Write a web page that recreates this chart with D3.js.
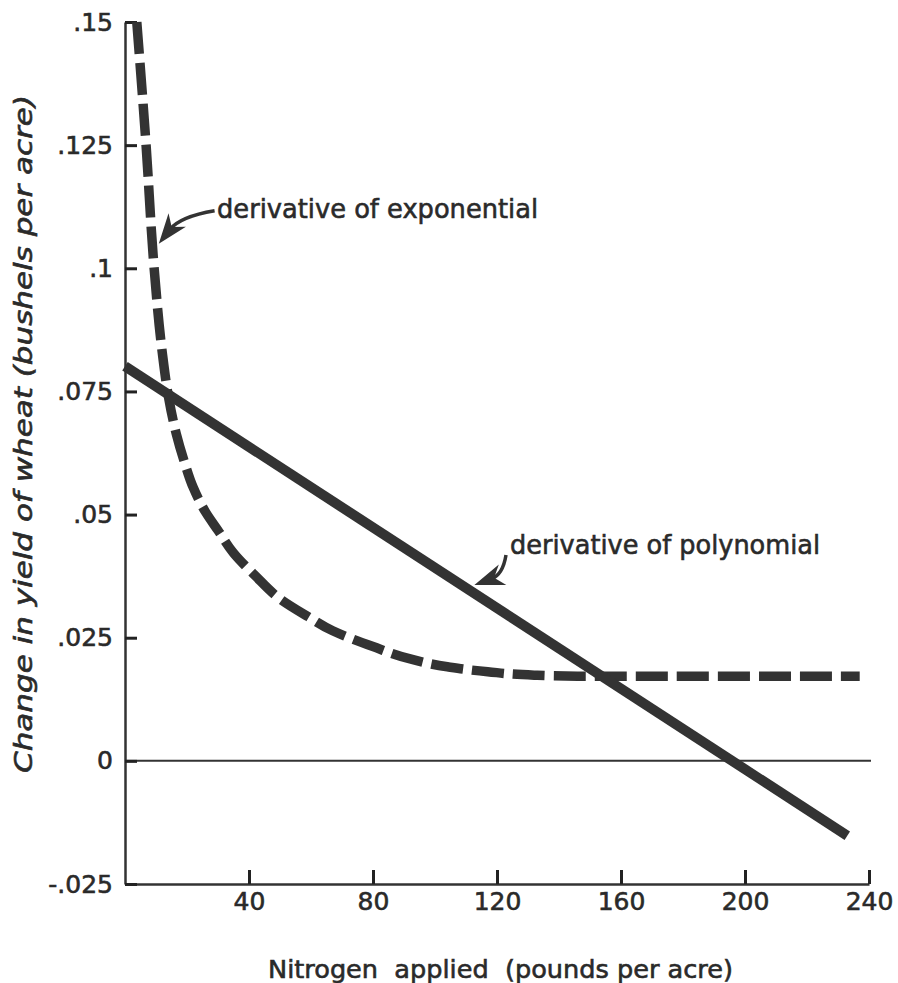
<!DOCTYPE html>
<html>
<head>
<meta charset="utf-8">
<script src="https://cdn.jsdelivr.net/npm/d3@7"></script>
<style>
  html, body { margin: 0; padding: 0; background: #fff; }
  svg { display: block; }
  text { font-family: "DejaVu Sans", sans-serif; fill: #2a2a2a; stroke: #2a2a2a; stroke-width: 0.6px; }
  .axis text { font-size: 25px; fill: #2a2a2a; }
</style>
</head>
<body>
<div id="chart"></div>
<script>
// tick values and labels as printed
const xTicks = [40, 80, 120, 160, 200, 240];
const xTickLabels = ["40", "80", "120", "160", "200", "240"];
const yTicks = [-0.025, 0, 0.025, 0.05, 0.075, 0.1, 0.125, 0.15];
const yTickLabels = ["-.025", "0", ".025", ".05", ".075", ".1", ".125", ".15"];

// derivative of polynomial (straight line)
const polyN = [0, 233];
const polyDeriv = [0.0801, -0.0152];

// derivative of exponential
const expN = [3.8, 6.8, 9.4, 12, 14, 16.5, 19, 22, 26, 30, 35, 42, 50, 59, 67, 80, 92, 104, 117, 132, 146, 237];
const expDeriv = [0.150, 0.125, 0.100, 0.083, 0.074, 0.0665, 0.061, 0.0555, 0.0505, 0.0468, 0.0422, 0.0376,
                  0.0329, 0.0293, 0.0264, 0.0232, 0.0207, 0.0191, 0.0181, 0.0174, 0.0172, 0.0172];

// labels with arrows, positions in data units
const annotations = [
    { text: "derivative of exponential", at: [29.7, 0.1102], len: 321,
      from: [28.9, 0.1117], via: [17.7, 0.1105], to: [10.9, 0.1050] },
    { text: "derivative of polynomial", at: [124.2, 0.0419], len: 310,
      from: [122.9, 0.0418], via: [121.9, 0.0378], to: [112.7, 0.0357] }
];

const width = 898, height = 983;
const ink = '#333';

const x = d3.scaleLinear().domain([0, 240]).range([125, 869]);
const y = d3.scaleLinear().domain([-0.025, 0.15]).range([884, 22]);

const svg = d3.select('#chart')
    .append('svg')
    .attr('width', width)
    .attr('height', height);

const headLen = 18;
svg.append('defs').append('marker')
    .attr('id', 'head')
    .attr('viewBox', '-32 -14 34 28')
    .attr('refX', -headLen)
    .attr('refY', 0)
    .attr('markerWidth', 34)
    .attr('markerHeight', 28)
    .attr('markerUnits', 'userSpaceOnUse')
    .attr('orient', 'auto')
    .append('path')
    .attr('d', 'M0,0 L-30,-11 L-21,0 L-30,11 Z')
    .attr('fill', ink);

// zero line
svg.append('line')
    .attr('x1', x(0)).attr('x2', x(240) + 2)
    .attr('y1', y(0)).attr('y2', y(0))
    .attr('stroke', ink)
    .attr('stroke-width', 2);

function styleAxis(g) {
    g.select('.domain').attr('stroke', ink).attr('stroke-width', 2.5);
    g.selectAll('.tick line').attr('stroke', '#222').attr('stroke-width', 3);
}

svg.append('g')
    .attr('class', 'axis')
    .attr('transform', `translate(0,${y(-0.025)})`)
    .call(d3.axisBottom(x)
        .tickValues(xTicks)
        .tickFormat((d, i) => xTickLabels[i])
        .tickSize(-14)
        .tickSizeOuter(0)
        .tickPadding(8))
    .call(styleAxis);

svg.append('g')
    .attr('class', 'axis')
    .attr('transform', `translate(${x(0)},0)`)
    .call(d3.axisLeft(y)
        .tickValues(yTicks)
        .tickFormat((d, i) => yTickLabels[i])
        .tickSize(-12)
        .tickSizeOuter(0)
        .tickPadding(12))
    .call(styleAxis);

svg.append('path')
    .datum(expN.map((n, i) => [n, expDeriv[i]]))
    .attr('fill', 'none')
    .attr('stroke', ink)
    .attr('stroke-width', 9.5)
    .attr('stroke-dasharray', '32,9')
    .attr('d', d3.line().x(d => x(d[0])).y(d => y(d[1])).curve(d3.curveMonotoneY));

svg.append('path')
    .datum(polyN.map((n, i) => [n, polyDeriv[i]]))
    .attr('fill', 'none')
    .attr('stroke', ink)
    .attr('stroke-width', 10)
    .attr('d', d3.line().x(d => x(d[0])).y(d => y(d[1])));

annotations.forEach(a => {
    const sx = x(a.from[0]), sy = y(a.from[1]);
    const cx = x(a.via[0]), cy = y(a.via[1]);
    const tx = x(a.to[0]), ty = y(a.to[1]);
    // stop the shaft short of the tip, the marker carries the point
    const dx = tx - cx, dy = ty - cy, dl = Math.hypot(dx, dy);
    const ex = tx - headLen * dx / dl, ey = ty - headLen * dy / dl;

    const p = d3.path();
    p.moveTo(sx, sy);
    p.quadraticCurveTo(cx, cy, ex, ey);
    svg.append('path')
        .attr('d', p.toString())
        .attr('fill', 'none')
        .attr('stroke', ink)
        .attr('stroke-width', 3.5)
        .attr('marker-end', 'url(#head)');

    svg.append('text')
        .attr('x', x(a.at[0]))
        .attr('y', y(a.at[1]))
        .attr('font-size', 27)
        .attr('textLength', a.len)
        .attr('lengthAdjust', 'spacingAndGlyphs')
        .text(a.text);
});

// axis titles
svg.append('text')
    .attr('x', 268)
    .attr('y', 978)
    .attr('font-size', 25)
    .attr('textLength', 465)
    .attr('lengthAdjust', 'spacingAndGlyphs')
    .attr('xml:space', 'preserve')
    .text('Nitrogen  applied  (pounds per acre)');

svg.append('text')
    .attr('transform', 'translate(32,773) rotate(-90)')
    .attr('font-size', 25)
    .attr('font-style', 'italic')
    .attr('textLength', 678)
    .attr('lengthAdjust', 'spacingAndGlyphs')
    .text('Change in yield of wheat (bushels per acre)');
</script>
</body>
</html>
